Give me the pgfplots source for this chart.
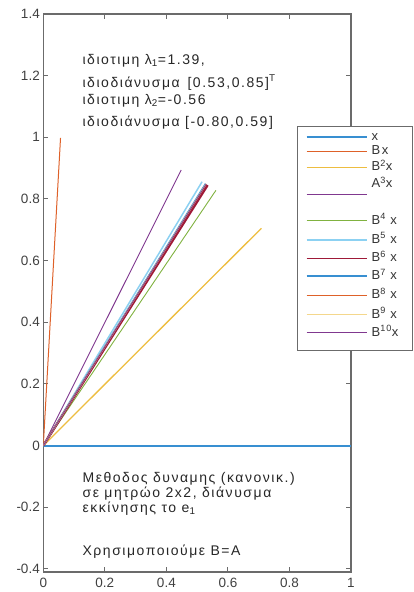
\documentclass[border=0pt]{standalone}
\usepackage{fontspec}
\setmainfont{Liberation Sans}
\newfontfamily\spaced[LetterSpace=11]{Liberation Sans}
\usepackage{pgfplots}
\pgfplotsset{compat=1.18}
\definecolor{cBlue}{rgb}{0.22,0.56,0.82}
\definecolor{cOrange}{rgb}{0.87,0.38,0.16}
\definecolor{cYellow}{rgb}{0.93,0.74,0.25}
\definecolor{cPurple}{rgb}{0.50,0.22,0.56}
\definecolor{cGreen}{rgb}{0.50,0.70,0.25}
\definecolor{cLBlue}{rgb}{0.55,0.82,0.95}
\definecolor{cDRed}{rgb}{0.62,0.10,0.22}
\definecolor{axgray}{rgb}{0.42,0.42,0.42}
\tikzset{lgent/.style 2 args={text height=#1, text depth=#2, text width=33pt, anchor=base west, inner sep=0pt, draw=white, line width=0.2pt}}
\begin{document}
\begin{tikzpicture}
\begin{axis}[
  scale only axis,
  width=307.7pt, height=558pt,
  xmin=0, xmax=1, ymin=-0.41, ymax=1.4,
  xtick={0,0.2,0.4,0.6,0.8,1},
  ytick={-0.4,-0.2,0,0.2,0.4,0.6,0.8,1,1.2,1.4},
  tick align=inside,
  major tick length=5pt,
  axis line style={axgray, line width=1.5pt},
  every tick/.style={axgray, line width=1pt},
  tick label style={font=\fontsize{13.5}{15}\selectfont, text=black!75},
  xticklabel style={yshift=-3pt},
  /pgf/number format/assume math mode=true,
  legend style={at={(rel axis cs:0.825,0.8)}, anchor=north west,
    draw=axgray, line width=1.3pt, fill=white,
    font=\spaced\fontsize{13}{14}\selectfont, row sep=0pt, column sep=4pt,
    inner xsep=8pt, inner ysep=3pt, text=black!80},
  legend image code/.code={\draw[#1] (0pt,3.5pt) -- (60pt,3.5pt);},
]
\addplot[draw=cBlue, line width=1.8pt, forget plot] coordinates {(0,0) (1,0)};
\addplot[draw=cOrange, line width=1pt, forget plot] coordinates {(0,0) (0.056,0.998)};
\addplot[draw=cYellow, line width=1.3pt, forget plot] coordinates {(0,0) (0.709,0.705)};
\addplot[draw=cPurple, line width=0.9pt, forget plot] coordinates {(0,0) (0.448,0.894)};
\addplot[draw=cGreen, line width=0.9pt, forget plot] coordinates {(0,0) (0.561,0.828)};
\addplot[draw=cLBlue, line width=1.5pt, forget plot] coordinates {(0,0) (0.516,0.856)};
\addplot[draw=cDRed, line width=2.4pt, forget plot] coordinates {(0,0) (0.534,0.845)};
\addplot[draw=cBlue, line width=1.2pt, forget plot] coordinates {(0,0) (0.527,0.850)};
\addplot[draw=cOrange, line width=1pt, forget plot] coordinates {(0,0) (0.530,0.848)};
\addplot[draw=cYellow!60, line width=1.2pt, forget plot] coordinates {(0,0) (0.529,0.849)};
\addplot[draw=cPurple, line width=0.9pt, forget plot] coordinates {(0,0) (0.5295,0.8485)};
\addlegendimage{draw=cBlue, line width=1.8pt}
\addlegendentry[lgent={11pt}{4.5pt}]{x}
\addlegendimage{draw=cOrange, line width=1pt}
\addlegendentry[lgent={9.5pt}{4.5pt}]{Bx}
\addlegendimage{draw=cYellow, line width=1.3pt}
\addlegendentry[lgent={11.5pt}{4.5pt}]{B\textsuperscript{2}x}
\addlegendimage{draw=cPurple, line width=0.9pt, yshift=-10pt}
\addlegendentry[lgent={12.5pt}{24pt}]{A\textsuperscript{3}x}
\addlegendimage{draw=cGreen, line width=1pt}
\addlegendentry[lgent={12pt}{7pt}]{B\textsuperscript{4} x}
\addlegendimage{draw=cLBlue, line width=1.5pt}
\addlegendentry[lgent={12pt}{6pt}]{B\textsuperscript{5} x}
\addlegendimage{draw=cDRed, line width=1pt}
\addlegendentry[lgent={12pt}{6pt}]{B\textsuperscript{6} x}
\addlegendimage{draw=cBlue, line width=1.6pt}
\addlegendentry[lgent={12pt}{7pt}]{B\textsuperscript{7} x}
\addlegendimage{draw=cOrange, line width=1pt}
\addlegendentry[lgent={12pt}{7pt}]{B\textsuperscript{8} x}
\addlegendimage{draw=cYellow!60, line width=1.5pt}
\addlegendentry[lgent={12pt}{6pt}]{B\textsuperscript{9} x}
\addlegendimage{draw=cPurple, line width=1pt}
\addlegendentry[lgent={12pt}{11pt}]{B\textsuperscript{10}x}
\begin{scope}[every node/.style={anchor=base west, inner sep=0pt, font=\spaced\fontsize{14}{15}\selectfont, text=black!85}]
\node at (axis cs:0.127,1.237) {ιδιοτιμη λ\textsubscript{1}=1.39,};
\node at (axis cs:0.127,1.163) {ιδιοδιάνυσμα\, [0.53,0.85]\textsuperscript{T}};
\node at (axis cs:0.127,1.108) {ιδιοτιμη λ\textsubscript{2}=-0.56};
\node at (axis cs:0.127,1.034) {ιδιοδιάνυσμα [-0.80,0.59]};
\node at (axis cs:0.127,-0.120) {Μεθοδος δυναμης (κανονικ.)};
\node at (axis cs:0.127,-0.168) {σε μητρώο 2x2, διάνυσμα};
\node at (axis cs:0.127,-0.216) {εκκίνησης το e\textsubscript{1}};
\node at (axis cs:0.127,-0.355) {Χρησιμοποιούμε Β=Α};
\end{scope}
\end{axis}
\pgfresetboundingbox
\path ([xshift=-43.3pt,yshift=-20pt]current axis.south west) rectangle ([xshift=62pt,yshift=14pt]current axis.north east);
\end{tikzpicture}
\end{document}
